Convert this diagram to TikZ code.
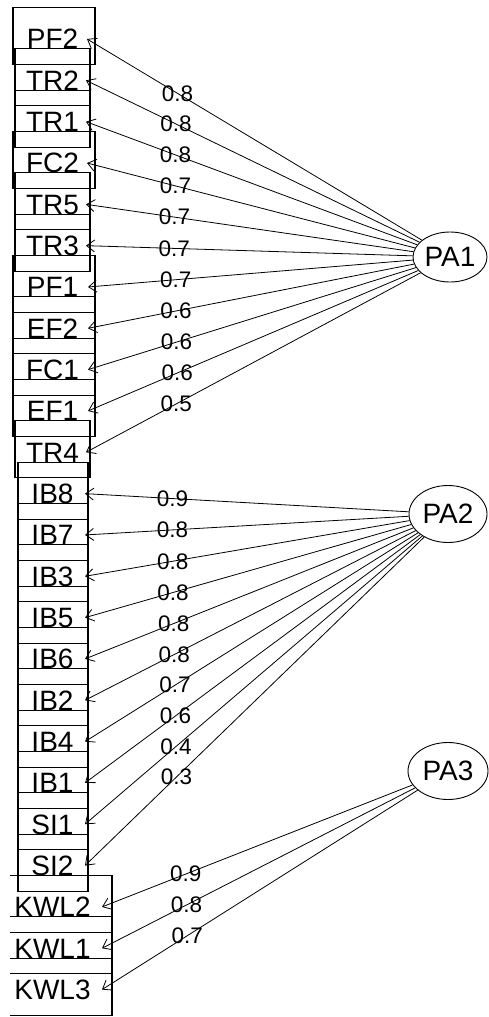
\documentclass[tikz,border=0pt]{standalone}
\usepackage{fontspec}
\setmainfont{Liberation Sans}
\usetikzlibrary{arrows.meta,shapes.geometric}
\begin{document}
\begin{tikzpicture}[x=1pt,y=-1pt,
  boxline/.style={draw=black, line width=1.1pt},
  varlabel/.style={font=\fontsize{28}{28}\selectfont, inner sep=0pt, anchor=base},
  factor/.style={draw, ellipse, line width=0.9pt, inner sep=0pt, font=\fontsize{28}{28}\selectfont},
  loading/.style={font=\fontsize{22.5}{22.5}\selectfont, inner sep=0pt},
  conn/.style={line width=0.8pt, -{Straight Barb[length=8pt,width=12pt,line width=0.8pt]}}
]
\useasboundingbox (0,0) rectangle (488,1017);
% variable boxes, labels and arrow targets
\foreach \i/\lab/\xl/\xr/\tx in {
  0/PF2/13/95/87, 1/TR2/15/90/86, 2/TR1/15/90/86, 3/FC2/13/95/87,
  4/TR5/15/90/86, 5/TR3/15/90/86, 6/PF1/13/95/88, 7/EF2/13/95/88,
  8/FC1/13/95/88, 9/EF1/13/95/88, 10/TR4/15/90/86,
  11/IB8/18/88/85, 12/IB7/18/88/85, 13/IB3/18/88/85, 14/IB5/18/88/85,
  15/IB6/18/88/85, 16/IB2/18/88/85, 17/IB4/18/88/85, 18/IB1/18/88/85,
  19/SI1/18/88/85, 20/SI2/18/88/85}{
  \pgfmathsetmacro{\c}{36+41.33*\i}
  \draw[boxline] (\xl,\c-28.5) rectangle (\xr,\c+28.5);
  \node[varlabel] (v\i) at (52.5,\c+12.8) {\lab};
  \coordinate (t\i) at (\tx,\c+3);
}
\foreach \i/\lab in {21/KWL2, 22/KWL1, 23/KWL3}{
  \pgfmathsetmacro{\c}{36+41.33*\i}
  \draw[boxline] (10,\c-28.5) -- (112,\c-28.5) -- (112,\c+28.5) -- (10,\c+28.5);
  \node[varlabel] (v\i) at (52.5,\c+12.8) {\lab};
  \coordinate (t\i) at (102,\c+3);
}
% factors
\node[factor, minimum width=74pt, minimum height=50pt] (PA1) at (450,257) {PA1};
\node[factor, minimum width=78pt, minimum height=57pt] (PA2) at (448,514) {PA2};
\node[factor, minimum width=80pt, minimum height=57pt] (PA3) at (448,771) {PA3};
% loadings
\foreach \i/\f/\l in {
  0/PA1/0.8, 1/PA1/0.8, 2/PA1/0.8, 3/PA1/0.7, 4/PA1/0.7, 5/PA1/0.7,
  6/PA1/0.7, 7/PA1/0.6, 8/PA1/0.6, 9/PA1/0.6, 10/PA1/0.5,
  11/PA2/0.9, 12/PA2/0.8, 13/PA2/0.8, 14/PA2/0.8, 15/PA2/0.8, 16/PA2/0.8,
  17/PA2/0.7, 18/PA2/0.6, 19/PA2/0.4, 20/PA2/0.3,
  21/PA3/0.9, 22/PA3/0.8, 23/PA3/0.7}{
  \draw[conn] (\f) -- node[loading, pos=0.73] {\l} (t\i);
}
\end{tikzpicture}
\end{document}
